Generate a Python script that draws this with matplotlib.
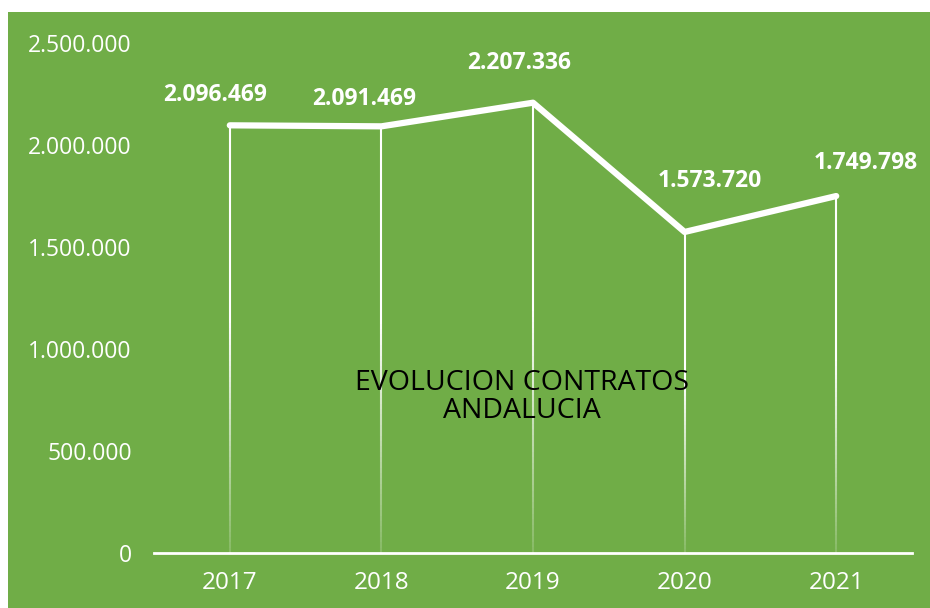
import numpy as np
import matplotlib
matplotlib.use("Agg")
import matplotlib.pyplot as plt
from matplotlib.collections import LineCollection
from matplotlib.patches import Rectangle

years = ["2017", "2018", "2019", "2020", "2021"]
contratos = [2096469, 2091469, 2207336, 1573720, 1749798]
y_ticks = [0, 500000, 1000000, 1500000, 2000000, 2500000]

# label offsets in pixels (dx, dy) as placed in the original
label_offsets = [(-15, 30), (-17, 27), (-14, 40), (25, 51), (30, 33)]

green = "#70AD47"
plt.rcParams['font.family'] = ['Open Sans', 'DejaVu Sans']

def fmt(v):
    return f"{v:,}".replace(",", ".")

fig = plt.figure(figsize=(9.3, 6.08), dpi=100)
fig.patch.set_facecolor("white")
fig.patches.append(Rectangle((8 / 930, 0), 1, 1 - 12 / 608, transform=fig.transFigure,
                             facecolor=green, edgecolor="none", zorder=-10))

ax = fig.add_axes([154 / 930, 55 / 608, (912 - 154) / 930, (553 - 43) / 608])
ax.set_facecolor("none")
x = np.arange(len(years))

# drop lines fading towards the axis
segs = []
cols = []
n = 80
for xi, v in zip(x, contratos):
    ys = np.linspace(v, 0, n + 1)
    for k in range(n):
        segs.append([(xi, ys[k]), (xi, ys[k + 1])])
        t = k / n
        a = 1.0 if t < 0.45 else 1.0 - 0.85 * (t - 0.45) / 0.55
        cols.append((1, 1, 1, a))
ax.add_collection(LineCollection(segs, colors=cols, linewidths=1.5, zorder=2))

ax.plot(x, contratos, color="white", lw=4.5, solid_joinstyle="round",
        solid_capstyle="round", zorder=3)

for xi, v, (dx, dy) in zip(x, contratos, label_offsets):
    ax.annotate(fmt(v), (xi, v), xytext=(dx * 0.72, dy * 0.72), textcoords="offset points",
                ha="center", va="center", color="white", fontsize=16.5, fontweight="bold", zorder=4)

ax.text(0.485, 0.305, "EVOLUCION CONTRATOS\nANDALUCIA", transform=ax.transAxes,
        ha="center", va="center", fontsize=20.5, color="black", linespacing=1.0, zorder=5)

ax.set_xlim(-0.5, len(years) - 0.5)
ax.set_ylim(0, 2500000)
ax.set_xticks(x)
ax.set_xticklabels(years)
ax.set_yticks(y_ticks)
ax.set_yticklabels([fmt(v) for v in y_ticks])
ax.tick_params(axis="both", length=0, colors="white", labelsize=16.5)
ax.tick_params(axis="y", pad=16)
ax.tick_params(axis="x", pad=13)
for lab in ax.get_xticklabels():
    lab.set_fontsize(17.5)

for s in ["top", "right", "left"]:
    ax.spines[s].set_visible(False)
ax.spines["bottom"].set_color("white")
ax.spines["bottom"].set_linewidth(2)
ax.spines["bottom"].set_zorder(6)

fig.savefig("out.png", dpi=100, facecolor=fig.get_facecolor())
